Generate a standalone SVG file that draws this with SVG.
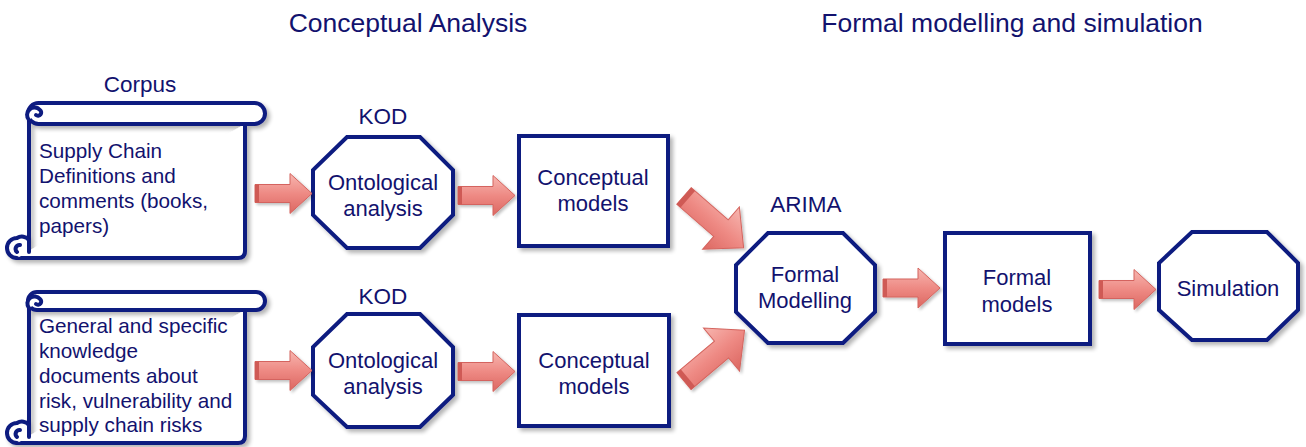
<svg xmlns="http://www.w3.org/2000/svg" width="1306" height="447" viewBox="0 0 1306 447">
<style>
text{font-family:"Liberation Sans",Arial,sans-serif;fill:#12126e}
.t{font-size:26.5px;text-anchor:middle}
.l{font-size:22.5px;text-anchor:middle}
.n{font-size:22px;text-anchor:middle}
.s{font-size:20.7px}
.box{fill:#fff;stroke:#0d1a80;stroke-width:4;stroke-linejoin:miter}
.scr{fill:#fff;stroke:#0d1a80;stroke-width:4;stroke-linejoin:round;stroke-linecap:round}
.arr{fill:url(#ag);stroke:#d4645e;stroke-width:1}
.tail{fill:#cf5a55}
</style>
<defs>
<linearGradient id="ag" x1="0" y1="0" x2="0" y2="1">
<stop offset="0" stop-color="#f7b6b0"/>
<stop offset="0.5" stop-color="#ee8a84"/>
<stop offset="1" stop-color="#dc6761"/>
</linearGradient>
<filter id="sh" x="-10%" y="-10%" width="130%" height="130%">
<feGaussianBlur in="SourceAlpha" stdDeviation="2"/>
<feOffset dx="3" dy="3"/>
<feComponentTransfer><feFuncA type="linear" slope="0.3"/></feComponentTransfer>
<feMerge><feMergeNode/><feMergeNode in="SourceGraphic"/></feMerge>
</filter>
<filter id="ash" x="-20%" y="-20%" width="150%" height="150%">
<feGaussianBlur in="SourceAlpha" stdDeviation="1.5"/>
<feOffset dx="2" dy="2"/>
<feComponentTransfer><feFuncA type="linear" slope="0.25"/></feComponentTransfer>
<feMerge><feMergeNode/><feMergeNode in="SourceGraphic"/></feMerge>
</filter>
<g id="harr">
<path class="arr" d="M0,-9 L35,-9 L35,-20 L57,0 L35,20 L35,9 L0,9 Z"/>
<rect class="tail" x="0" y="-9" width="4" height="18"/>
</g>
<g id="darr">
<path class="arr" d="M0,-11 L49,-11 L49,-28 L79,0 L49,28 L49,11 L0,11 Z"/>
<rect class="tail" x="0" y="-11" width="5" height="22"/>
</g>
</defs>

<text class="t" x="408" y="32">Conceptual Analysis</text>
<text class="t" x="1012" y="32">Formal modelling and simulation</text>

<g id="corpus1">
<text class="l" x="140" y="92">Corpus</text>
<g filter="url(#sh)">
<path class="scr" d="M29,114 L29,240 M17,258 L238,258 Q245,258 245,251 L245,124"/>
<rect class="scr" x="28" y="103" width="237" height="21" rx="10.5"/>
<path class="scr" d="M29,120 A6.5,6.5 0 1 1 40,110 A3,3 0 0 1 36,115"/>
<path class="scr" d="M17,258 A10,10 0 0 1 17,238 A9,9 0 0 1 29,240 L29,252 M17,252 A4,4 0 0 1 20,245"/>
</g>
<text class="s" x="39" y="158">Supply Chain</text>
<text class="s" x="39" y="183">Definitions and</text>
<text class="s" x="39" y="208">comments (books,</text>
<text class="s" x="39" y="233">papers)</text>
</g>

<g id="corpus2">
<g filter="url(#sh)">
<path class="scr" d="M29,304 L29,425 M17,443 L238,443 Q245,443 245,436 L245,310"/>
<rect class="scr" x="28" y="292" width="237" height="18" rx="9"/>
<path class="scr" d="M29,308 A6,6 0 1 1 40,299 A3,3 0 0 1 36,304"/>
<path class="scr" d="M17,443 A10,10 0 0 1 17,423 A9,9 0 0 1 29,425 L29,437 M17,437 A4,4 0 0 1 20,430"/>
</g>
<text class="s" x="39" y="333">General and specific</text>
<text class="s" x="39" y="358">knowledge</text>
<text class="s" x="39" y="383">documents about</text>
<text class="s" x="39" y="408">risk, vulnerability and</text>
<text class="s" x="39" y="432">supply chain risks</text>
</g>

<g id="kod1">
<text class="l" x="383" y="124">KOD</text>
<polygon class="box" filter="url(#sh)" points="347,137 420,137 453,170 453,215 420,248 347,248 313,215 313,170"/>
<text class="n" x="383" y="190">Ontological</text>
<text class="n" x="383" y="216">analysis</text>
</g>

<g id="kod2">
<text class="l" x="383" y="304">KOD</text>
<polygon class="box" filter="url(#sh)" points="347,314 420,314 453,347 453,395 420,427 347,427 313,395 313,347"/>
<text class="n" x="383" y="368">Ontological</text>
<text class="n" x="383" y="394">analysis</text>
</g>

<g id="cm1">
<rect class="box" filter="url(#sh)" x="519" y="136" width="149" height="110"/>
<text class="n" x="593" y="185">Conceptual</text>
<text class="n" x="593" y="211">models</text>
</g>

<g id="cm2">
<rect class="box" filter="url(#sh)" x="519" y="315" width="150" height="111"/>
<text class="n" x="594" y="368">Conceptual</text>
<text class="n" x="594" y="394">models</text>
</g>

<g id="arima">
<text class="l" x="806" y="212">ARIMA</text>
<polygon class="box" filter="url(#sh)" points="768,233 843,233 875,265 875,312 843,343 768,343 736,312 736,265"/>
<text class="n" x="805" y="282">Formal</text>
<text class="n" x="805" y="308">Modelling</text>
</g>

<g id="fm">
<rect class="box" filter="url(#sh)" x="945" y="233" width="145" height="111"/>
<text class="n" x="1017" y="285">Formal</text>
<text class="n" x="1017" y="312">models</text>
</g>

<g id="sim">
<polygon class="box" filter="url(#sh)" points="1192,232 1267,232 1298,263 1298,310 1267,340 1192,340 1159,310 1159,263"/>
<text class="n" x="1228" y="296">Simulation</text>
</g>

<g id="connectors" filter="url(#ash)">
<use href="#harr" transform="translate(255,193.5)"/>
<use href="#harr" transform="translate(458,195.5)"/>
<use href="#harr" transform="translate(255,370.5)"/>
<use href="#harr" transform="translate(458,371.5)"/>
<use href="#darr" transform="translate(684,196) rotate(41)"/>
<use href="#darr" transform="translate(684,381) rotate(-40)"/>
<use href="#harr" transform="translate(883,288)"/>
<use href="#harr" transform="translate(1099,289.5)"/>
</g>
</svg>
